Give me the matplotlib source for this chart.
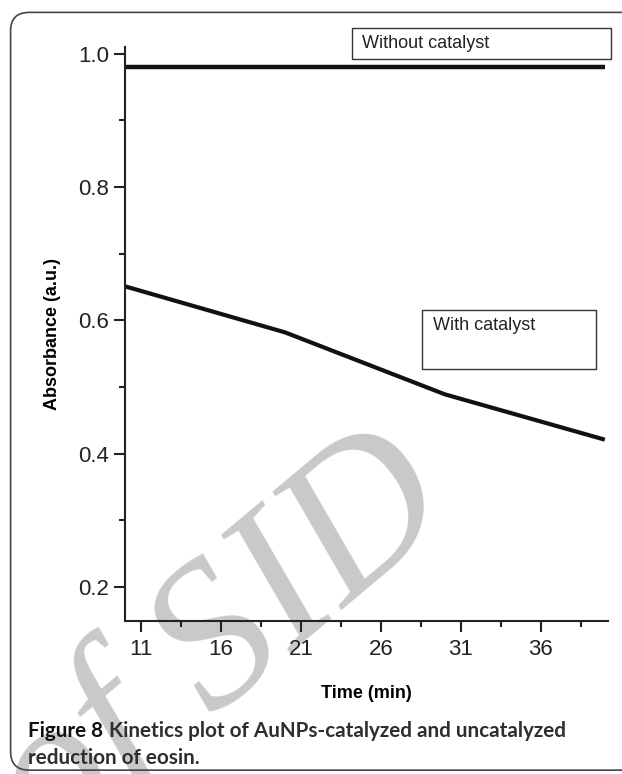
import matplotlib
matplotlib.use("Agg")
import matplotlib.pyplot as plt
from matplotlib.patches import FancyBboxPatch
from matplotlib.ticker import FixedLocator

plt.rcParams['font.family'] = ['Liberation Sans', 'DejaVu Sans']

# data
time_without = [10, 40]
abs_without = [0.98, 0.98]

time_with = [10, 20, 30, 40]
abs_with = [0.651, 0.582, 0.489, 0.421]

xticks = [11, 16, 21, 26, 31, 36]
xminor = [13.5, 18.5, 23.5, 28.5, 33.5, 38.5]
yticks = [0.2, 0.4, 0.6, 0.8, 1.0]
yminor = [0.3, 0.5, 0.7, 0.9]

W, H = 622, 774
fig = plt.figure(figsize=(W / 100, H / 100), dpi=100)

# rounded frame around the figure panel
frame = FancyBboxPatch((0.017, 0.005), 1.1, 0.979, boxstyle="round,pad=0,rounding_size=0.03",
                       transform=fig.transFigure, fill=False, lw=1.2, ec='#444444',
                       mutation_aspect=W / H)
fig.patches.append(frame)

# watermark, behind everything
fig.text(222 / W, 1 - 645 / H, "of SID", fontsize=148, color='#c9c9c9', rotation=40,
         rotation_mode='anchor', style='italic', ha='center', va='center',
         zorder=-5, family='Liberation Serif')

ax = fig.add_axes([125 / W, 1 - 621 / H, 483 / W, 574 / H])
ax.patch.set_alpha(0)
ax.plot(time_without, abs_without, color='#111111', lw=3.2, solid_capstyle='butt')
ax.plot(time_with, abs_with, color='#111111', lw=3.0, solid_capstyle='butt')

ax.set_xlim(10, 40.2)
ax.set_ylim(0.149, 1.01)
ax.xaxis.set_major_locator(FixedLocator(xticks))
ax.xaxis.set_minor_locator(FixedLocator(xminor))
ax.yaxis.set_major_locator(FixedLocator(yticks))
ax.yaxis.set_minor_locator(FixedLocator(yminor))
ax.set_yticklabels(['%.1f' % v for v in yticks])

for s in ['top', 'right']:
    ax.spines[s].set_visible(False)
for s in ['left', 'bottom']:
    ax.spines[s].set_linewidth(1.5)
    ax.spines[s].set_color('#222222')

ax.tick_params(which='major', direction='out', length=8, width=1.5, labelsize=16,
               colors='#222222')
ax.tick_params(which='minor', direction='out', length=4.5, width=1.5, colors='#222222')
ax.tick_params(axis='x', pad=5)

ax.set_xlabel('Time (min)', fontsize=13, fontweight='bold', labelpad=18)
ax.set_ylabel('Absorbance (a.u.)', fontsize=13, fontweight='bold', labelpad=12)

# annotation boxes
fig.add_artist(plt.Rectangle((352 / W, 1 - 59 / H), 259 / W, 31 / H,
                             transform=fig.transFigure, fill=False, lw=1, ec='#333333'))
fig.text(362 / W, 1 - 44 / H, 'Without catalyst', fontsize=13, va='center', color='#222222')
fig.add_artist(plt.Rectangle((422 / W, 1 - 369 / H), 174 / W, 59 / H,
                             transform=fig.transFigure, fill=False, lw=1, ec='#333333'))
fig.text(433 / W, 1 - 325 / H, 'With catalyst', fontsize=13, va='center', color='#222222')

# caption: "Figure 8" darker, rest follows; first line fitted to the reference width
cap_font = ['Lato', 'DejaVu Sans']
renderer = fig.canvas.get_renderer()
x0, y1, y2 = 28, 1 - 731 / H, 1 - 758 / H
lead = fig.text(x0 / W, y1, 'Figure 8', fontsize=14, fontweight='bold',
                family=cap_font, color='#111111', va='center')
rest = fig.text(0, y1, 'Kinetics plot of AuNPs-catalyzed and uncatalyzed', fontsize=14,
                fontweight='bold', family=cap_font, color='#2e2e2e', va='center')
w_lead = lead.get_window_extent(renderer).width
w_rest = rest.get_window_extent(renderer).width
gap = 0.25 * 14 * 100 / 72
fs = 14 * 541 / (w_lead + w_rest + gap)
lead.set_fontsize(fs)
rest.set_fontsize(fs)
scale = fs / 14
rest.set_x((x0 + (w_lead + gap) * scale) / W)
fig.text(x0 / W, y2, 'reduction of eosin.', fontsize=fs, fontweight='bold',
         family=cap_font, color='#2e2e2e', va='center')

fig.savefig('out.png', dpi=100)
